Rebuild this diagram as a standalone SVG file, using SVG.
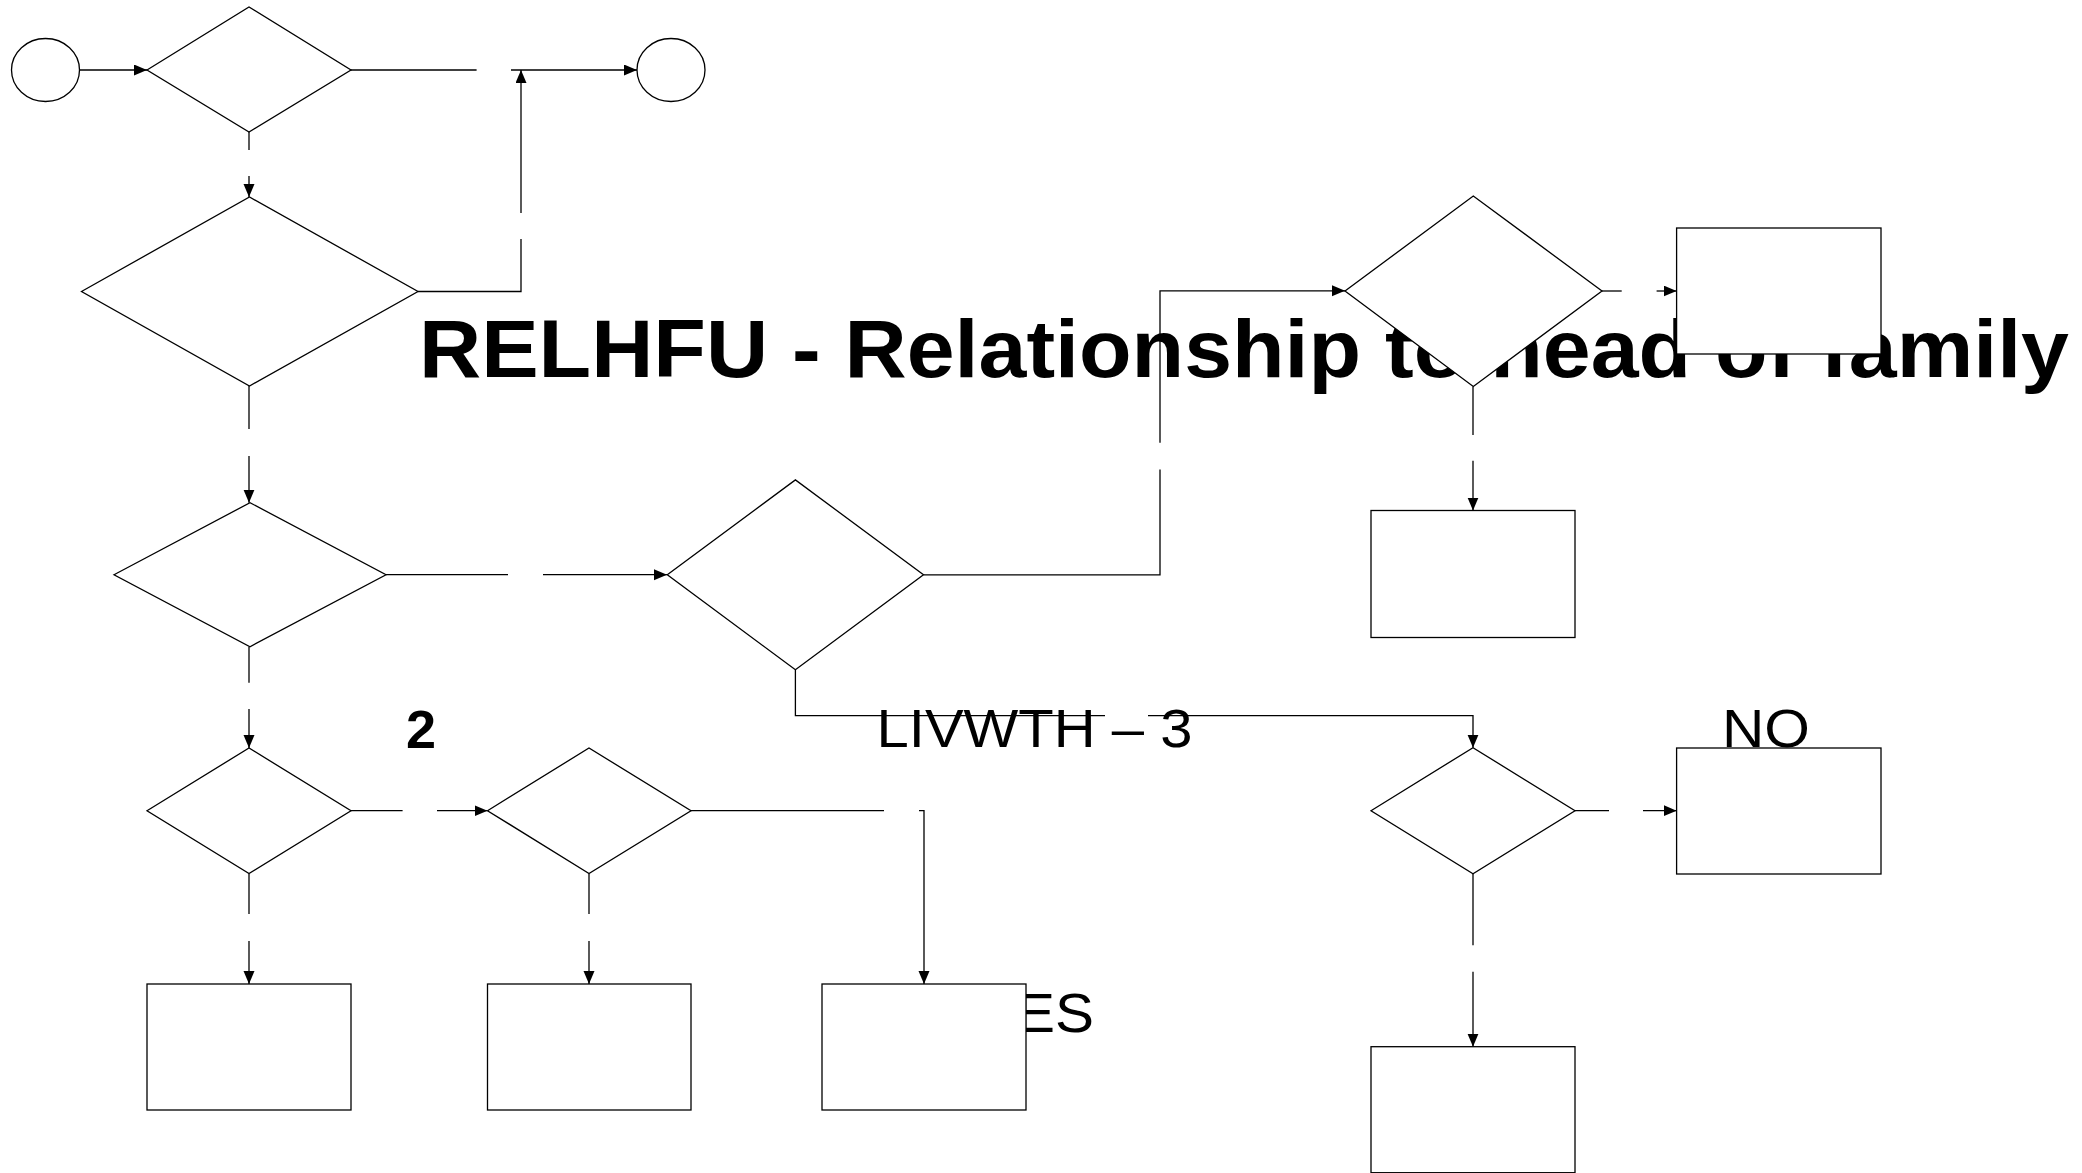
<svg xmlns="http://www.w3.org/2000/svg" width="2082" height="1173" viewBox="0 0 2082 1173">
<style>
.n{fill:#fff;stroke:#000;stroke-width:1.3}
.c{fill:none;stroke:#000;stroke-width:1.3}
.t{font-family:"Liberation Sans",Arial,sans-serif;fill:#000}
.b{font-weight:bold}
</style>
<defs>
<marker id="ah" markerUnits="userSpaceOnUse" markerWidth="14" markerHeight="12" refX="13" refY="5.5" orient="auto">
<path d="M0,0 L13,5.5 L0,11 z" fill="#000"/>
</marker>
</defs>
<rect x="0" y="0" width="2082" height="1173" fill="#fff"/>
<g id="labels">
<text class="t b" x="419" y="376.5" font-size="82" textLength="1650" lengthAdjust="spacingAndGlyphs">RELHFU - Relationship to head of family</text>
<text class="t b" x="406" y="748" font-size="54">2</text>
<text class="t" x="876.5" y="746.7" font-size="54" textLength="316" lengthAdjust="spacingAndGlyphs">LIVWTH – 3</text>
<text class="t" x="1722" y="746.5" font-size="54" textLength="88" lengthAdjust="spacingAndGlyphs">NO</text>
<text class="t" x="1094" y="1031.5" font-size="55" text-anchor="end" textLength="117" lengthAdjust="spacingAndGlyphs">YES</text>
</g>
<g id="connectors">
<path class="c" d="M79.5,70 H147" marker-end="url(#ah)"/>
<path class="c" d="M351,70 H476.6"/>
<path class="c" d="M511,70 H637" marker-end="url(#ah)"/>
<path class="c" d="M249,132 V150"/>
<path class="c" d="M249,176 V197" marker-end="url(#ah)"/>
<path class="c" d="M418,291.5 H521 V239"/>
<path class="c" d="M521,213 V70" marker-end="url(#ah)"/>
<path class="c" d="M249,386 V429"/>
<path class="c" d="M249,456 V502.7" marker-end="url(#ah)"/>
<path class="c" d="M386,574.7 H508"/>
<path class="c" d="M543,574.7 H667" marker-end="url(#ah)"/>
<path class="c" d="M249,646.7 V682.7"/>
<path class="c" d="M249,709 V748" marker-end="url(#ah)"/>
<path class="c" d="M351,810.7 H402.6"/>
<path class="c" d="M437,810.7 H487.5" marker-end="url(#ah)"/>
<path class="c" d="M249,873.5 V914"/>
<path class="c" d="M249,941 V984" marker-end="url(#ah)"/>
<path class="c" d="M589,873.5 V914"/>
<path class="c" d="M589,941 V984" marker-end="url(#ah)"/>
<path class="c" d="M691,810.7 H884"/>
<path class="c" d="M919,810.7 H924 V984" marker-end="url(#ah)"/>
<path class="c" d="M923.5,574.8 H1160 V469.6"/>
<path class="c" d="M1160,442.8 V290.8 H1345" marker-end="url(#ah)"/>
<path class="c" d="M795.4,669.7 V715.6 H1105"/>
<path class="c" d="M1148,715.6 H1473 V747.7" marker-end="url(#ah)"/>
<path class="c" d="M1602,291 H1621.7"/>
<path class="c" d="M1656.6,291 H1676.6" marker-end="url(#ah)"/>
<path class="c" d="M1473,386.5 V435"/>
<path class="c" d="M1473,460.8 V510.5" marker-end="url(#ah)"/>
<path class="c" d="M1575,810.7 H1609"/>
<path class="c" d="M1643,810.7 H1676.6" marker-end="url(#ah)"/>
<path class="c" d="M1473,873.7 V945.3"/>
<path class="c" d="M1473,971.7 V1046.7" marker-end="url(#ah)"/>
</g>
<g id="start"><ellipse class="n" cx="45.5" cy="70" rx="34" ry="31.5"/></g>
<g id="end"><ellipse class="n" cx="671" cy="70" rx="34" ry="31.5"/></g>
<g id="d1"><polygon class="n" points="147,70 249,7 351,70 249,132"/></g>
<g id="d2"><polygon class="n" points="81.5,291.5 249.5,197 418,291.5 249.5,386"/></g>
<g id="d3"><polygon class="n" points="114,574.7 250,502.7 386,574.7 250,646.7"/></g>
<g id="d4"><polygon class="n" points="667.3,574.8 795.4,479.9 923.5,574.8 795.4,669.7"/></g>
<g id="d5"><polygon class="n" points="147,810.7 249,748 351,810.7 249,873.5"/></g>
<g id="d6"><polygon class="n" points="487.5,810.7 589,748 691,810.7 589,873.5"/></g>
<g id="d7"><polygon class="n" points="1345,291 1473.3,196 1602,291 1473.3,386.5"/></g>
<g id="d8"><polygon class="n" points="1371,810.7 1473,747.7 1575,810.7 1473,873.7"/></g>
<g id="rA"><rect class="n" x="147" y="984" width="204" height="126"/></g>
<g id="rB"><rect class="n" x="487.5" y="984" width="203.5" height="126"/></g>
<g id="rC"><rect class="n" x="822" y="984" width="204" height="126"/></g>
<g id="rF"><rect class="n" x="1676.6" y="228" width="204.4" height="126"/></g>
<g id="rG"><rect class="n" x="1371" y="510.5" width="204" height="127"/></g>
<g id="rD"><rect class="n" x="1676.6" y="748" width="204.4" height="126"/></g>
<g id="rE"><rect class="n" x="1371" y="1046.7" width="204" height="126"/></g>
</svg>
